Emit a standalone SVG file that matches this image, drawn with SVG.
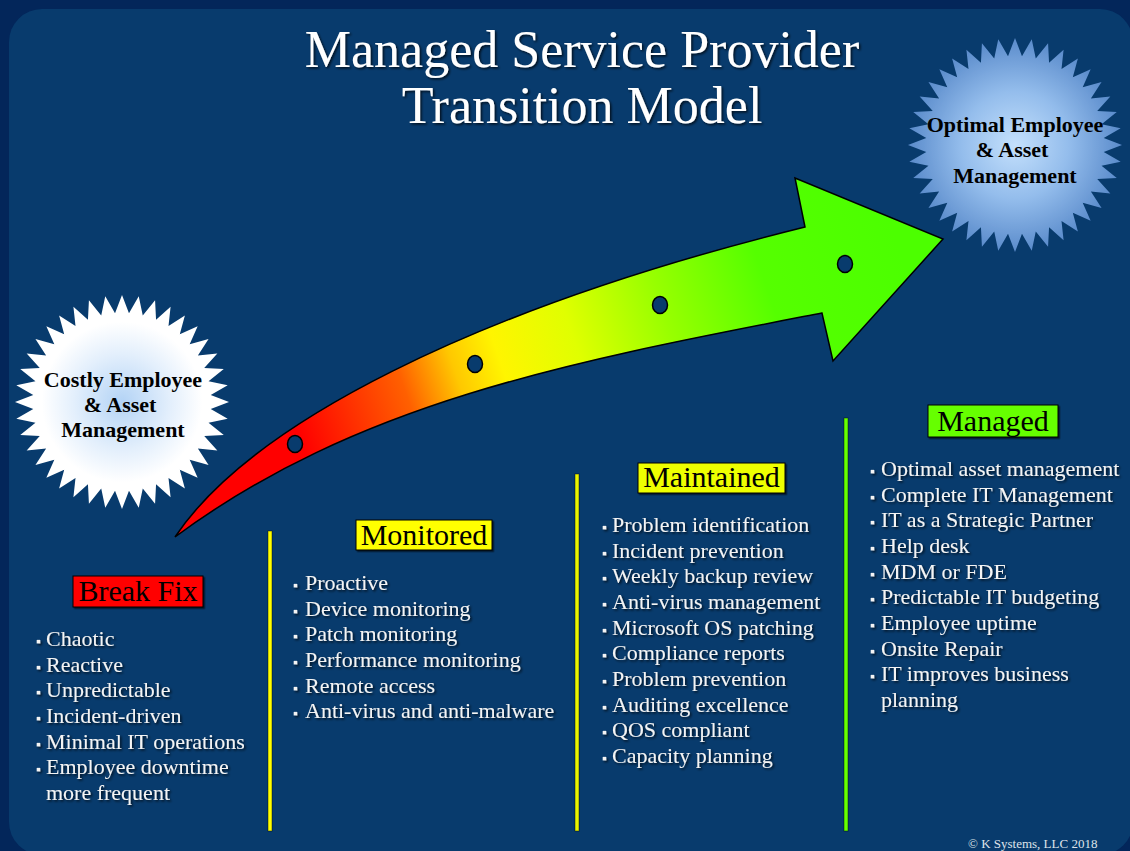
<svg xmlns="http://www.w3.org/2000/svg" width="1130" height="851" viewBox="0 0 1130 851">
<style>
.title{font-family:"Liberation Serif","Times New Roman",serif;font-size:52px;fill:#ffffff;text-anchor:middle}
.burst{font-family:"Liberation Serif","Times New Roman",serif;font-size:22px;font-weight:bold;fill:#000;text-anchor:middle}
.lbl{font-family:"Liberation Serif","Times New Roman",serif;font-size:30px;fill:#000;text-anchor:middle}
.item{font-family:"Liberation Serif","Times New Roman",serif;font-size:22px;fill:#f4f4f4}
.bul{font-size:14px}
.copy{font-family:"Liberation Serif","Times New Roman",serif;font-size:13px;fill:#dfe3ea}
.box{stroke:#000;stroke-width:1}
.vline{stroke:rgba(0,0,0,0.55);stroke-width:0.8}
</style>
<defs>
<filter id="tshadow" x="-5%" y="-20%" width="110%" height="140%">
<feDropShadow dx="1.5" dy="1.5" stdDeviation="0.8" flood-color="#000" flood-opacity="0.75"/>
</filter>
<filter id="bshadow" x="-10%" y="-20%" width="120%" height="150%">
<feDropShadow dx="1.5" dy="1.5" stdDeviation="0.6" flood-color="#000" flood-opacity="0.6"/>
</filter>
<filter id="soft" x="-10%" y="-10%" width="120%" height="120%">
<feGaussianBlur stdDeviation="0.7"/>
</filter>
<radialGradient id="gLeft" cx="0.5" cy="0.5" r="0.5">
<stop offset="0" stop-color="#b3d3f5"/>
<stop offset="0.45" stop-color="#e3effc"/>
<stop offset="0.75" stop-color="#ffffff"/>
<stop offset="1" stop-color="#ffffff"/>
</radialGradient>
<radialGradient id="gRight" cx="0.5" cy="0.5" r="0.5">
<stop offset="0" stop-color="#c4e0fc"/>
<stop offset="0.5" stop-color="#94bdec"/>
<stop offset="1" stop-color="#5a8bcb"/>
</radialGradient>
<linearGradient id="gArrow" gradientUnits="userSpaceOnUse" x1="175" y1="500" x2="900" y2="250">
<stop offset="0" stop-color="#ff0000"/>
<stop offset="0.18" stop-color="#ff0000"/>
<stop offset="0.33" stop-color="#ff6000"/>
<stop offset="0.40" stop-color="#ffc800"/>
<stop offset="0.46" stop-color="#fff500"/>
<stop offset="0.56" stop-color="#e0ff00"/>
<stop offset="0.68" stop-color="#99ff00"/>
<stop offset="0.82" stop-color="#55ff00"/>
<stop offset="1" stop-color="#4cff00"/>
</linearGradient>
<polygon id="star" points="107,0 88.73,6.98 105.68,16.74 86.54,20.78 101.76,33.07 82.23,34.06 95.34,48.58 75.88,46.5 86.57,62.89 67.68,57.8 75.66,75.66 57.8,67.68 62.89,86.57 46.5,75.88 48.58,95.34 34.06,82.23 33.07,101.76 20.78,86.54 16.74,105.68 6.98,88.73 0,107 -6.98,88.73 -16.74,105.68 -20.78,86.54 -33.07,101.76 -34.06,82.23 -48.58,95.34 -46.5,75.88 -62.89,86.57 -57.8,67.68 -75.66,75.66 -67.68,57.8 -86.57,62.89 -75.88,46.5 -95.34,48.58 -82.23,34.06 -101.76,33.07 -86.54,20.78 -105.68,16.74 -88.73,6.98 -107,0 -88.73,-6.98 -105.68,-16.74 -86.54,-20.78 -101.76,-33.07 -82.23,-34.06 -95.34,-48.58 -75.88,-46.5 -86.57,-62.89 -67.68,-57.8 -75.66,-75.66 -57.8,-67.68 -62.89,-86.57 -46.5,-75.88 -48.58,-95.34 -34.06,-82.23 -33.07,-101.76 -20.78,-86.54 -16.74,-105.68 -6.98,-88.73 0,-107 6.98,-88.73 16.74,-105.68 20.78,-86.54 33.07,-101.76 34.06,-82.23 48.58,-95.34 46.5,-75.88 62.89,-86.57 57.8,-67.68 75.66,-75.66 67.68,-57.8 86.57,-62.89 75.88,-46.5 95.34,-48.58 82.23,-34.06 101.76,-33.07 86.54,-20.78 105.68,-16.74 88.73,-6.98"/>
</defs>

<!-- background -->
<rect x="0" y="0" width="1130" height="851" fill="#03265a"/>
<rect x="9" y="9" width="1124" height="846" rx="33" ry="33" fill="#083b6d"/>

<!-- title -->
<g id="title" filter="url(#tshadow)">
<text class="title" x="582" y="67">Managed Service Provider</text>
<text class="title" x="582" y="123">Transition Model</text>
</g>

<!-- connectors: transition arrow -->
<g id="connectors">
<path id="arrow" d="M175,537 C250,425 470,310 805,227 L795,178 L943,239 L833,361 L822,313 C580,360 360,400 175,537 Z" fill="url(#gArrow)" stroke="#000" stroke-width="1.5" stroke-linejoin="miter"/>
<g fill="#083b6d" stroke="#000" stroke-width="1.5">
<ellipse cx="295" cy="444" rx="7.5" ry="8.5"/>
<ellipse cx="475" cy="364" rx="7.5" ry="8.5"/>
<ellipse cx="660" cy="305" rx="7.5" ry="8.5"/>
<ellipse cx="845" cy="264" rx="7.5" ry="8.5"/>
</g>
</g>

<!-- starbursts -->
<g id="start-state">
<use href="#star" transform="translate(122,402)" fill="url(#gLeft)" filter="url(#soft)"/>
<text class="burst" x="123" y="387">Costly Employee</text>
<text class="burst" x="120" y="412">&amp; Asset</text>
<text class="burst" x="123" y="437">Management</text>
</g>

<g id="goal-state">
<use href="#star" transform="translate(1015,145)" fill="url(#gRight)" filter="url(#soft)"/>
<text class="burst" x="1015" y="132">Optimal Employee</text>
<text class="burst" x="1012" y="157">&amp; Asset</text>
<text class="burst" x="1015" y="183">Management</text>
</g>

<!-- divider lines -->
<g id="dividers">
<rect class="vline" x="268" y="531" width="4" height="300" fill="#ffff00"/>
<rect class="vline" x="575" y="474" width="4" height="357" fill="#eaf500"/>
<rect class="vline" x="844" y="418" width="4" height="413" fill="#66ff00"/>
</g>

<!-- phase: Break Fix -->
<g id="phase-break-fix">
<rect class="box" x="73" y="576" width="130" height="31" fill="#ff0000" filter="url(#bshadow)"/>
<text class="lbl" x="138" y="601">Break Fix</text>
<g filter="url(#tshadow)">
<text class="item" y="646"><tspan class="bul" x="36">▪</tspan><tspan x="46">Chaotic</tspan></text>
<text class="item" y="671.6"><tspan class="bul" x="36">▪</tspan><tspan x="46">Reactive</tspan></text>
<text class="item" y="697.3"><tspan class="bul" x="36">▪</tspan><tspan x="46">Unpredictable</tspan></text>
<text class="item" y="723"><tspan class="bul" x="36">▪</tspan><tspan x="46">Incident-driven</tspan></text>
<text class="item" y="748.6"><tspan class="bul" x="36">▪</tspan><tspan x="46">Minimal IT operations</tspan></text>
<text class="item" y="774.3"><tspan class="bul" x="36">▪</tspan><tspan x="46">Employee downtime</tspan></text>
<text class="item" x="46" y="800">more frequent</text>
</g>
</g>

<!-- phase: Monitored -->
<g id="phase-monitored">
<rect class="box" x="356" y="520" width="136" height="30" fill="#ffff00" filter="url(#bshadow)"/>
<text class="lbl" x="424" y="545">Monitored</text>
<g filter="url(#tshadow)">
<text class="item" y="590"><tspan class="bul" x="293">▪</tspan><tspan x="305">Proactive</tspan></text>
<text class="item" y="615.6"><tspan class="bul" x="293">▪</tspan><tspan x="305">Device monitoring</tspan></text>
<text class="item" y="641.3"><tspan class="bul" x="293">▪</tspan><tspan x="305">Patch monitoring</tspan></text>
<text class="item" y="667"><tspan class="bul" x="293">▪</tspan><tspan x="305">Performance monitoring</tspan></text>
<text class="item" y="692.6"><tspan class="bul" x="293">▪</tspan><tspan x="305">Remote access</tspan></text>
<text class="item" y="718.3"><tspan class="bul" x="293">▪</tspan><tspan x="305">Anti-virus and anti-malware</tspan></text>
</g>
</g>

<!-- phase: Maintained -->
<g id="phase-maintained">
<rect class="box" x="638" y="463" width="147" height="30" fill="#eeff00" filter="url(#bshadow)"/>
<text class="lbl" x="711.5" y="487">Maintained</text>
<g filter="url(#tshadow)">
<text class="item" y="532"><tspan class="bul" x="602">▪</tspan><tspan x="612">Problem identification</tspan></text>
<text class="item" y="557.6"><tspan class="bul" x="602">▪</tspan><tspan x="612">Incident prevention</tspan></text>
<text class="item" y="583.3"><tspan class="bul" x="602">▪</tspan><tspan x="612">Weekly backup review</tspan></text>
<text class="item" y="609"><tspan class="bul" x="602">▪</tspan><tspan x="612">Anti-virus management</tspan></text>
<text class="item" y="634.6"><tspan class="bul" x="602">▪</tspan><tspan x="612">Microsoft OS patching</tspan></text>
<text class="item" y="660.3"><tspan class="bul" x="602">▪</tspan><tspan x="612">Compliance reports</tspan></text>
<text class="item" y="686"><tspan class="bul" x="602">▪</tspan><tspan x="612">Problem prevention</tspan></text>
<text class="item" y="711.6"><tspan class="bul" x="602">▪</tspan><tspan x="612">Auditing excellence</tspan></text>
<text class="item" y="737.3"><tspan class="bul" x="602">▪</tspan><tspan x="612">QOS compliant</tspan></text>
<text class="item" y="763"><tspan class="bul" x="602">▪</tspan><tspan x="612">Capacity planning</tspan></text>
</g>
</g>

<!-- phase: Managed -->
<g id="phase-managed">
<rect class="box" x="928" y="405" width="130" height="32" fill="#66ff00" filter="url(#bshadow)"/>
<text class="lbl" x="993" y="431">Managed</text>
<g filter="url(#tshadow)">
<text class="item" y="476"><tspan class="bul" x="870">▪</tspan><tspan x="881">Optimal asset management</tspan></text>
<text class="item" y="501.6"><tspan class="bul" x="870">▪</tspan><tspan x="881">Complete IT Management</tspan></text>
<text class="item" y="527.3"><tspan class="bul" x="870">▪</tspan><tspan x="881">IT as a Strategic Partner</tspan></text>
<text class="item" y="553"><tspan class="bul" x="870">▪</tspan><tspan x="881">Help desk</tspan></text>
<text class="item" y="578.6"><tspan class="bul" x="870">▪</tspan><tspan x="881">MDM or FDE</tspan></text>
<text class="item" y="604.3"><tspan class="bul" x="870">▪</tspan><tspan x="881">Predictable IT budgeting</tspan></text>
<text class="item" y="630"><tspan class="bul" x="870">▪</tspan><tspan x="881">Employee uptime</tspan></text>
<text class="item" y="655.6"><tspan class="bul" x="870">▪</tspan><tspan x="881">Onsite Repair</tspan></text>
<text class="item" y="681.3"><tspan class="bul" x="870">▪</tspan><tspan x="881">IT improves business</tspan></text>
<text class="item" x="881" y="707">planning</text>
</g>
</g>

<text id="copyright" class="copy" x="968" y="848">© K Systems, LLC 2018</text>
</svg>
